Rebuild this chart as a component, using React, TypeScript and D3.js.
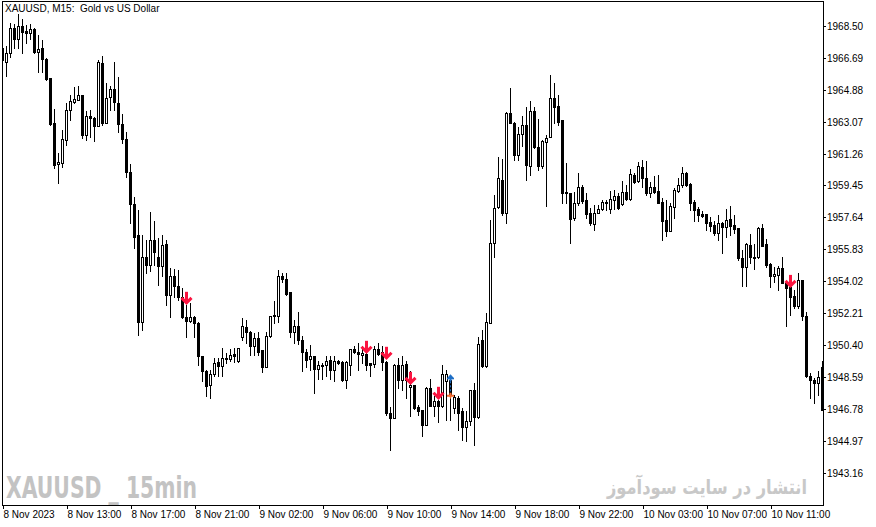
import * as d3 from "d3";
import React, { useRef, useEffect } from "react";

// XAUUSD M15 candles, 8 Nov 09:00 -> 10 Nov 12:15
const openPrices = [
  1967.25, 1966.48, 1966.99, 1968.37, 1967.75, 1968.5, 1968.22, 1968.09, 1968.31, 1967.04,
  1967.24, 1966.61, 1965.53, 1962.98, 1960.68, 1960.73, 1962.03, 1963.74, 1964.21, 1964.3,
  1964.59, 1962.32, 1963.4, 1963.28, 1962.83, 1966.39, 1963.02, 1964.46, 1964.91, 1964.12,
  1962.93, 1962.08, 1960.24, 1958.39, 1956.65, 1951.72, 1955.4, 1954.95, 1956.33, 1955.42,
  1954.89, 1956.14, 1953.25, 1954.29, 1953.72, 1953.15, 1952.0, 1951.79, 1952.0, 1951.66,
  1949.75, 1948.9, 1948.14, 1948.75, 1949.41, 1949.22, 1949.69, 1949.62, 1949.9, 1949.47,
  1950.85, 1951.42, 1951.11, 1950.36, 1950.79, 1950.09, 1949.18, 1950.92, 1952.11, 1952.06,
  1954.33, 1954.14, 1953.42, 1951.11, 1951.49, 1950.7, 1950.03, 1949.6, 1949.75, 1949.03,
  1949.28, 1949.26, 1949.56, 1948.99, 1949.51, 1949.41, 1948.42, 1949.28, 1950.17, 1950.03,
  1949.85, 1949.89, 1949.38, 1949.33, 1950.17, 1949.98, 1949.41, 1946.54, 1946.26, 1949.28,
  1948.39, 1949.34, 1948.01, 1948.14, 1946.88, 1946.69, 1945.88, 1947.96, 1946.95, 1947.2,
  1946.95, 1948.33, 1948.39, 1946.83, 1947.39, 1946.63, 1945.74, 1946.06, 1947.82, 1946.31,
  1950.66, 1949.22, 1951.66, 1956.21, 1958.22, 1959.77, 1957.91, 1963.58, 1963.02, 1961.19,
  1962.38, 1962.89, 1960.56, 1963.68, 1961.62, 1960.56, 1961.94, 1962.19, 1964.4, 1963.96,
  1963.17, 1959.1, 1959.05, 1957.6, 1958.48, 1959.39, 1958.63, 1957.88, 1957.27, 1957.91,
  1958.11, 1958.54, 1958.11, 1958.63, 1958.86, 1958.41, 1959.1, 1958.67, 1960.05, 1959.73,
  1960.49, 1959.86, 1959.05, 1959.35, 1959.16, 1958.54, 1957.5, 1956.84, 1958.22, 1959.16,
  1959.48, 1960.15, 1959.54, 1958.54, 1958.11, 1957.82, 1957.82, 1957.4, 1957.22, 1956.78,
  1957.35, 1957.12, 1957.54, 1957.22, 1957.03, 1955.33, 1954.82, 1956.08, 1955.42, 1955.42,
  1957.03, 1956.14, 1955.01, 1954.29, 1954.38, 1954.76, 1953.94, 1953.68, 1953.19, 1952.62,
  1954.1, 1952.06, 1948.62, 1948.43, 1948.24, 1949.17,
];
const highPrices = [
  1967.37, 1967.37, 1968.65, 1968.61, 1969.18, 1968.88, 1968.56, 1968.61, 1968.39, 1967.99,
  1967.71, 1966.69, 1965.55, 1963.79, 1961.3, 1962.6, 1964.13, 1964.59, 1965.06, 1965.1,
  1964.59, 1963.7, 1963.74, 1963.36, 1966.57, 1966.8, 1965.29, 1965.1, 1966.48, 1965.63,
  1963.51, 1962.51, 1960.68, 1958.8, 1958.06, 1956.65, 1956.36, 1957.97, 1957.46, 1956.48,
  1956.65, 1956.36, 1954.78, 1954.72, 1954.66, 1953.64, 1952.68, 1952.79, 1952.06, 1951.68,
  1949.79, 1948.99, 1948.99, 1949.66, 1949.68, 1950.24, 1949.96, 1950.19, 1950.24, 1950.24,
  1951.94, 1951.83, 1951.17, 1951.09, 1951.11, 1950.13, 1951.11, 1952.06, 1952.87, 1954.63,
  1954.51, 1954.48, 1953.42, 1951.83, 1952.3, 1950.92, 1950.17, 1950.41, 1949.79, 1949.47,
  1949.39, 1949.75, 1949.75, 1949.79, 1949.56, 1949.47, 1949.47, 1950.17, 1950.32, 1950.51,
  1950.32, 1950.6, 1949.39, 1950.32, 1950.51, 1950.32, 1949.47, 1946.91, 1949.34, 1949.66,
  1949.75, 1949.47, 1948.9, 1948.14, 1947.01, 1946.73, 1948.01, 1948.47, 1947.48, 1947.29,
  1949.28, 1948.96, 1948.71, 1947.57, 1947.48, 1946.82, 1946.63, 1947.82, 1948.24, 1950.88,
  1951.26, 1952.21, 1957.5, 1958.92, 1961.06, 1960.94, 1963.64, 1964.97, 1963.07, 1962.79,
  1963.4, 1963.92, 1964.26, 1963.92, 1963.21, 1962.04, 1962.32, 1965.72, 1965.25, 1964.59,
  1963.17, 1960.72, 1959.05, 1959.1, 1960.18, 1959.48, 1959.01, 1958.16, 1958.35, 1958.35,
  1958.63, 1958.63, 1959.16, 1959.2, 1959.05, 1959.73, 1959.48, 1960.38, 1960.15, 1960.81,
  1960.9, 1960.86, 1959.64, 1959.99, 1960.05, 1958.73, 1958.63, 1958.45, 1959.3, 1959.86,
  1960.49, 1960.24, 1959.58, 1958.63, 1958.25, 1958.03, 1957.84, 1957.69, 1957.46, 1957.78,
  1957.4, 1958.11, 1958.29, 1957.78, 1957.03, 1955.8, 1956.21, 1956.71, 1956.14, 1957.12,
  1957.27, 1956.41, 1955.05, 1954.85, 1954.89, 1955.42, 1953.94, 1953.91, 1953.53, 1954.48,
  1954.1, 1952.3, 1948.81, 1948.52, 1948.9, 1949.5,
];
const lowPrices = [
  1966.46, 1965.67, 1966.76, 1967.25, 1967.25, 1966.99, 1967.54, 1967.76, 1966.97, 1965.91,
  1965.91, 1965.44, 1962.89, 1960.45, 1959.6, 1960.51, 1961.75, 1963.17, 1964.13, 1964.3,
  1962.15, 1962.03, 1962.22, 1962.0, 1962.83, 1962.89, 1962.98, 1963.74, 1963.74, 1962.51,
  1961.88, 1959.95, 1957.33, 1955.91, 1950.98, 1951.26, 1954.49, 1954.61, 1954.95, 1953.81,
  1954.29, 1952.68, 1952.0, 1953.15, 1952.96, 1951.94, 1950.88, 1951.68, 1950.87, 1949.28,
  1948.33, 1947.48, 1947.39, 1948.62, 1948.66, 1948.62, 1949.39, 1949.47, 1949.45, 1949.45,
  1950.7, 1950.53, 1949.85, 1949.85, 1949.85, 1948.84, 1949.15, 1950.88, 1951.64, 1951.73,
  1954.0, 1953.25, 1950.88, 1950.53, 1950.47, 1948.9, 1949.18, 1948.99, 1947.67, 1948.47,
  1948.47, 1948.62, 1948.47, 1948.33, 1949.34, 1948.33, 1947.96, 1948.71, 1949.94, 1948.99,
  1949.37, 1948.99, 1948.66, 1949.18, 1949.85, 1948.99, 1946.44, 1944.46, 1946.26, 1947.96,
  1947.86, 1947.39, 1946.35, 1946.78, 1946.44, 1945.21, 1945.88, 1946.95, 1946.35, 1946.01,
  1946.91, 1946.15, 1946.15, 1946.56, 1945.59, 1945.03, 1944.93, 1945.88, 1944.74, 1946.26,
  1949.18, 1949.18, 1951.66, 1955.42, 1958.16, 1957.78, 1957.31, 1962.98, 1960.9, 1960.9,
  1961.7, 1959.77, 1960.05, 1961.57, 1960.34, 1960.43, 1958.29, 1962.19, 1962.98, 1962.89,
  1958.45, 1958.45, 1956.18, 1957.5, 1958.35, 1958.48, 1957.6, 1957.22, 1956.93, 1957.88,
  1958.07, 1958.07, 1957.88, 1958.11, 1958.11, 1958.35, 1958.63, 1958.63, 1959.62, 1959.67,
  1959.39, 1958.92, 1958.82, 1959.01, 1958.45, 1956.33, 1956.59, 1956.84, 1957.6, 1959.1,
  1959.39, 1959.43, 1958.06, 1957.46, 1957.46, 1957.69, 1956.93, 1956.84, 1956.65, 1956.37,
  1955.61, 1956.52, 1956.65, 1956.75, 1955.23, 1953.72, 1953.72, 1955.05, 1954.71, 1955.33,
  1955.99, 1954.85, 1953.68, 1954.0, 1953.53, 1953.91, 1951.45, 1952.11, 1952.49, 1952.49,
  1951.83, 1948.58, 1947.39, 1947.11, 1947.58, 1946.72,
];
const closePrices = [
  1966.57, 1966.99, 1968.37, 1967.75, 1968.5, 1968.18, 1968.09, 1968.31, 1967.04, 1967.18,
  1966.61, 1965.48, 1962.94, 1960.62, 1960.79, 1962.09, 1963.74, 1964.26, 1964.34, 1964.59,
  1962.32, 1963.4, 1963.28, 1962.83, 1966.48, 1962.98, 1964.4, 1964.91, 1964.21, 1962.93,
  1962.08, 1960.24, 1958.39, 1956.5, 1951.72, 1955.4, 1954.95, 1956.33, 1955.7, 1954.89,
  1956.08, 1953.21, 1954.29, 1953.72, 1953.15, 1951.98, 1951.79, 1951.98, 1951.66, 1949.75,
  1948.9, 1948.09, 1948.77, 1949.37, 1949.22, 1949.66, 1949.62, 1949.85, 1949.75, 1950.23,
  1951.49, 1951.11, 1950.36, 1950.79, 1950.03, 1949.18, 1950.92, 1952.06, 1952.02, 1954.33,
  1954.14, 1953.3, 1951.11, 1951.49, 1950.66, 1950.03, 1949.56, 1949.75, 1949.03, 1949.28,
  1949.22, 1949.52, 1948.99, 1949.51, 1949.38, 1948.42, 1949.41, 1950.17, 1949.98, 1949.9,
  1949.94, 1949.24, 1949.24, 1950.17, 1949.89, 1949.41, 1946.54, 1946.26, 1949.28, 1948.39,
  1949.28, 1948.43, 1948.14, 1946.82, 1946.63, 1945.88, 1947.96, 1946.95, 1947.2, 1946.95,
  1948.77, 1948.77, 1947.57, 1947.46, 1946.54, 1945.74, 1946.06, 1947.82, 1946.31, 1950.47,
  1949.22, 1951.68, 1956.21, 1958.16, 1959.86, 1957.88, 1963.58, 1963.02, 1961.19, 1962.38,
  1962.89, 1960.62, 1963.68, 1961.62, 1960.56, 1961.99, 1962.13, 1964.4, 1963.92, 1963.07,
  1959.05, 1959.05, 1957.54, 1958.45, 1959.35, 1958.59, 1957.84, 1957.31, 1957.91, 1958.11,
  1958.54, 1958.48, 1958.67, 1958.86, 1958.16, 1959.1, 1958.67, 1960.11, 1959.67, 1960.56,
  1959.86, 1959.05, 1959.39, 1959.1, 1958.48, 1957.46, 1956.84, 1958.29, 1959.2, 1959.48,
  1960.15, 1959.48, 1958.48, 1958.06, 1957.78, 1957.73, 1957.35, 1957.16, 1956.78, 1957.31,
  1957.12, 1957.5, 1957.16, 1956.97, 1955.33, 1954.82, 1956.12, 1955.39, 1955.36, 1957.03,
  1956.03, 1954.95, 1954.29, 1954.44, 1954.76, 1953.94, 1953.63, 1953.15, 1952.62, 1954.1,
  1952.06, 1948.62, 1948.43, 1948.24, 1948.58, 1946.72,
];

const priceTicks = [
  1968.5, 1966.69, 1964.88, 1963.07, 1961.26, 1959.45, 1957.64, 1955.83, 1954.02,
  1952.21, 1950.4, 1948.59, 1946.78, 1944.97, 1943.16,
];
const timeTickIdx = [0, 16, 32, 48, 64, 80, 96, 112, 128, 144, 160, 176, 192];
const timeTickLabels = [
  "8 Nov 2023", "8 Nov 13:00", "8 Nov 17:00", "8 Nov 21:00", "9 Nov 02:00",
  "9 Nov 06:00", "9 Nov 10:00", "9 Nov 14:00", "9 Nov 18:00", "9 Nov 22:00",
  "10 Nov 03:00", "10 Nov 07:00", "10 Nov 11:00",
];

// indicator sell arrows (bar index, arrow tip price)
const sellIdx = [46, 91, 96, 102, 109, 197];
const sellPrice = [1952.68, 1949.9, 1949.56, 1948.14, 1947.29, 1953.64];
// trade history marks
const tradeIdx = [112];
const tradeOpen = [1948.51];
const tradeClose = [1947.52];

const W = 876;
const H = 527;
const FONT = "'Liberation Sans', Arial, sans-serif";

const App: React.FC = () => {
  const svgRef = useRef<SVGSVGElement>(null);

  useEffect(() => {
    if (!svgRef.current) return;
    const svg = d3.select(svgRef.current);
    svg.selectAll("*").remove();

    const x = d3.scaleLinear().domain([0, closePrices.length - 1]).range([2.5, 822.5]);
    const y = d3.scaleLinear().domain([1943.16, 1968.5]).range([472.6, 26]);
    const px = (v: number) => Math.round(y(v));

    svg.append("rect").attr("width", W).attr("height", H).attr("fill", "#fff");

    // watermarks
    svg
      .append("text")
      .attr("x", 6)
      .attr("y", 498)
      .attr("font-family", "'Liberation Sans Narrow', 'DejaVu Sans Condensed', 'Liberation Sans', sans-serif")
      .attr("font-weight", "bold")
      .attr("font-size", 30)
      .attr("fill", "#c3c3c3")
      .attr("textLength", 191)
      .attr("lengthAdjust", "spacingAndGlyphs")
      .style("white-space", "pre")
      .text("XAUUSD _ 15min");

    svg
      .append("text")
      .attr("x", 807)
      .attr("y", 494)
      .attr("text-anchor", "end")
      .attr("font-family", "'DejaVu Sans', sans-serif")
      .attr("font-weight", "bold")
      .attr("font-size", 20)
      .attr("fill", "#c8c8c8")
      .attr("textLength", 200)
      .attr("lengthAdjust", "spacingAndGlyphs")
      .text("انتشار در سایت سودآموز");

    const defs = svg.append("defs");
    defs
      .append("clipPath")
      .attr("id", "plot")
      .append("rect")
      .attr("x", 3)
      .attr("y", 2)
      .attr("width", 820)
      .attr("height", 503);

    const g = svg.append("g").attr("clip-path", "url(#plot)");
    const idx = d3.range(closePrices.length);

    // wicks
    g.selectAll("line.wick")
      .data(idx)
      .join("line")
      .attr("x1", (i) => x(i))
      .attr("x2", (i) => x(i))
      .attr("y1", (i) => px(highPrices[i]))
      .attr("y2", (i) => px(lowPrices[i]) + 1)
      .attr("stroke", "#000")
      .attr("stroke-width", 1);

    // bodies
    g.selectAll("rect.body")
      .data(idx)
      .join("rect")
      .each(function (i) {
        const o = openPrices[i];
        const c = closePrices[i];
        const top = px(Math.max(o, c));
        const bot = px(Math.min(o, c));
        const r = d3.select(this);
        if (c > o) {
          r.attr("x", x(i) - 1)
            .attr("y", top + 0.5)
            .attr("width", 2)
            .attr("height", Math.max(bot - top, 1))
            .attr("fill", "#fff")
            .attr("stroke", "#000")
            .attr("stroke-width", 1);
        } else {
          r.attr("x", x(i) - 1.5)
            .attr("y", top)
            .attr("width", 3)
            .attr("height", Math.max(bot - top + 1, 2))
            .attr("fill", "#000");
        }
      });

    // sell arrows
    sellIdx.forEach((i, k) => {
      const cx = x(i);
      const tip = y(sellPrice[k]);
      const a = g.append("g").attr("fill", "none").attr("stroke", "#fb1440");
      a.append("rect")
        .attr("x", cx - 1.5)
        .attr("y", tip - 13)
        .attr("width", 3)
        .attr("height", 10)
        .attr("fill", "#fb1440")
        .attr("stroke", "none");
      a.append("path")
        .attr("d", `M${cx - 5},${tip - 7} L${cx},${tip - 2} L${cx + 5},${tip - 7}`)
        .attr("stroke-width", 3)
        .attr("stroke-linejoin", "miter");
    });

    // trade marks
    tradeIdx.forEach((i, k) => {
      const cx = x(i);
      const yo = y(tradeOpen[k]);
      const yc = y(tradeClose[k]);
      g.append("line")
        .attr("x1", cx)
        .attr("x2", cx)
        .attr("y1", yo + 3)
        .attr("y2", yc - 3)
        .attr("stroke", "#1f6fc6")
        .attr("stroke-dasharray", "2,2");
      g.append("path")
        .attr("d", `M${cx},${yo - 4} L${cx + 3.5},${yo} L${cx + 1},${yo} L${cx + 1},${yo + 3} L${cx - 1},${yo + 3} L${cx - 1},${yo} L${cx - 3.5},${yo} Z`)
        .attr("fill", "#1f6fc6");
      g.append("rect")
        .attr("x", cx - 3.5)
        .attr("y", yo - 0.5)
        .attr("width", 7)
        .attr("height", 1.5)
        .attr("fill", "#1f6fc6");
      g.append("path")
        .attr("d", `M${cx - 1},${yc - 3} L${cx + 1},${yc - 3} L${cx + 1},${yc - 1} L${cx + 3.5},${yc - 1} L${cx + 3.5},${yc + 1} L${cx + 1},${yc + 1} L${cx},${yc + 3.5} L${cx - 1},${yc + 1} L${cx - 3.5},${yc + 1} L${cx - 3.5},${yc - 1} L${cx - 1},${yc - 1} Z`)
        .attr("fill", "#f26a2e");
    });

    // frame
    svg
      .append("rect")
      .attr("x", 2.5)
      .attr("y", 1.5)
      .attr("width", 821)
      .attr("height", 504)
      .attr("fill", "none")
      .attr("stroke", "#000");

    // title
    svg
      .append("text")
      .attr("x", 5)
      .attr("y", 12)
      .attr("font-family", FONT)
      .attr("font-size", 10)
      .style("white-space", "pre")
      .text("XAUUSD, M15:  Gold vs US Dollar");

    // price axis
    const ya = svg.append("g");
    priceTicks.forEach((p) => {
      const ty = Math.round(y(p)) + 0.5;
      ya.append("line")
        .attr("x1", 823)
        .attr("x2", 826)
        .attr("y1", ty)
        .attr("y2", ty)
        .attr("stroke", "#000");
      ya.append("text")
        .attr("x", 827)
        .attr("y", ty + 3.5)
        .attr("font-family", FONT)
        .attr("font-size", 10)
        .text(p.toFixed(2));
    });

    // time axis
    const xa = svg.append("g");
    timeTickIdx.forEach((i, k) => {
      const tx = Math.round(x(i)) + 0.5;
      xa.append("line")
        .attr("x1", tx)
        .attr("x2", tx)
        .attr("y1", 506)
        .attr("y2", 509)
        .attr("stroke", "#000");
      xa.append("text")
        .attr("x", tx)
        .attr("y", 517.5)
        .attr("font-family", FONT)
        .attr("font-size", 10)
        .text(timeTickLabels[k]);
    });
  }, []);

  return (
    <svg
      ref={svgRef}
      width={W}
      height={H}
      style={{ position: "absolute", left: 0, top: 0, display: "block" }}
    ></svg>
  );
};

export default App;
